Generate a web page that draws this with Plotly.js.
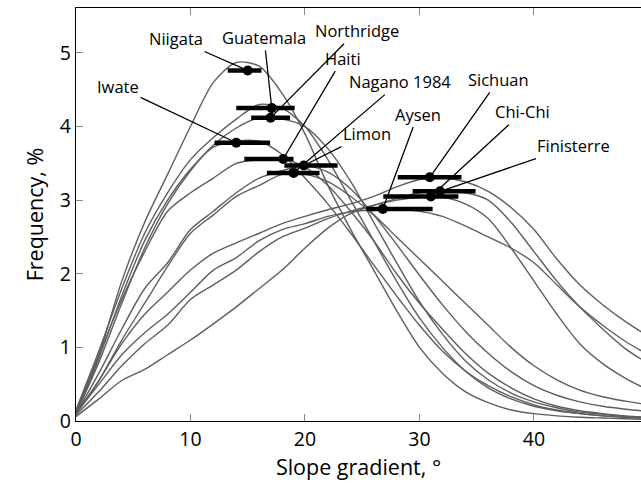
<!DOCTYPE html>
<html>
<head>
<meta charset="utf-8">
<script src="https://cdn.plot.ly/plotly-3.0.1.min.js"></script>
<style>html,body{margin:0;padding:0;background:#fff;}#chart{width:641px;height:485px;}</style>
</head>
<body>
<div id="chart"></div>
<script>
// Slope-gradient bins (degrees)
const slopeX = [0,2,4,6,8,10,12,14,16,18,20,22,24,26,28,30,32,34,36,38,40,42,44,46,48,50];

// Frequency (%) of each event's landslide slope distribution
const niigata    = [0.12,0.9,1.9,2.7,3.35,4.0,4.6,4.87,4.82,4.45,3.9,3.2,2.6,2.05,1.5,1.0,0.65,0.4,0.25,0.15,0.1,0.07,0.05,0.04,0.03,0.02];
const guatemala  = [0.15,0.95,1.8,2.55,3.1,3.55,3.85,4.1,4.3,4.25,4.0,3.55,3.0,2.45,1.9,1.4,1.0,0.68,0.45,0.3,0.2,0.14,0.1,0.07,0.05,0.04];
const northridge = [0.1,0.8,1.6,2.35,2.95,3.4,3.75,3.98,4.12,4.1,4.0,3.7,3.25,2.7,2.15,1.62,1.18,0.82,0.56,0.38,0.26,0.18,0.12,0.09,0.06,0.05];
const iwate      = [0.1,0.85,1.7,2.45,3.0,3.42,3.72,3.8,3.8,3.62,3.3,2.95,2.55,2.12,1.7,1.3,0.95,0.68,0.48,0.33,0.22,0.15,0.1,0.07,0.05,0.04];
const haiti      = [0.12,0.9,1.65,2.3,2.85,3.1,3.3,3.5,3.55,3.56,3.45,3.2,2.85,2.45,2.0,1.6,1.25,0.92,0.65,0.45,0.3,0.2,0.14,0.1,0.07,0.05];
const limon      = [0.1,0.65,1.25,1.8,2.15,2.6,2.85,3.1,3.3,3.4,3.47,3.38,3.15,2.8,2.4,1.98,1.58,1.22,0.92,0.67,0.48,0.35,0.26,0.2,0.16,0.13];
const nagano     = [0.1,0.55,1.1,1.6,2.1,2.55,2.8,3.05,3.2,3.35,3.35,3.25,3.05,2.8,2.5,2.2,1.9,1.6,1.3,1.0,0.75,0.56,0.42,0.33,0.27,0.22];
const aysen      = [0.1,0.5,0.9,1.2,1.45,1.75,2.05,2.22,2.45,2.6,2.68,2.78,2.84,2.87,2.88,2.85,2.78,2.65,2.5,2.35,2.15,1.85,1.55,1.3,1.08,0.9];
const sichuan    = [0.1,0.55,1.05,1.45,1.75,2.05,2.28,2.42,2.55,2.68,2.78,2.87,2.95,3.05,3.18,3.28,3.3,3.25,3.12,2.9,2.6,2.2,1.85,1.58,1.35,1.15];
const chichi     = [0.08,0.4,0.75,1.05,1.3,1.65,1.85,2.05,2.3,2.5,2.62,2.75,2.85,2.93,3.0,3.04,3.04,2.95,2.75,2.35,1.9,1.45,1.05,0.78,0.58,0.42];
const finisterre = [0.06,0.3,0.55,0.7,0.9,1.1,1.32,1.55,1.8,2.05,2.35,2.62,2.82,2.93,3.02,3.1,3.12,3.1,3.0,2.7,2.3,1.9,1.55,1.25,0.98,0.78];

// Event names, modal slope (dot) and its spread (bar)
const eventNames = ["Niigata","Guatemala","Northridge","Iwate","Haiti","Limon","Nagano 1984","Aysen","Sichuan","Chi-Chi","Finisterre"];
const peakX      = [15.0,17.1,17.0,14.0,18.1,19.9,19.0,26.8,30.9,31.0,31.8];
const peakY      = [4.76,4.25,4.12,3.78,3.56,3.47,3.37,2.88,3.31,3.05,3.12];
const spreadMinus= [1.75,3.1,1.7,1.9,3.4,1.7,2.33,1.45,2.8,4.16,2.4];
const spreadPlus = [1.2,2.0,1.7,2.95,0.9,2.95,2.27,4.35,2.77,2.4,3.1];

// Tick labels
const xTicks = [0,10,20,30,40];
const yTicks = [0,1,2,3,4,5];

// Label placement (layout only)
const labelPos = {
  x: [8.73,16.42,24.54,3.67,23.32,25.41,28.3,29.87,36.94,39.04,43.49],
  y: [5.19,5.21,5.30,4.54,4.93,3.90,4.61,4.17,4.64,4.20,3.74]
};

const curves = [niigata,guatemala,northridge,iwate,haiti,limon,nagano,aysen,sichuan,chichi,finisterre];
const FONT = "Open Sans, Noto Sans, sans-serif";

const traces = curves.map((c,i) => ({
  type: "scatter", mode: "lines", x: slopeX, y: c, name: eventNames[i],
  line: {color: "#5e5e5e", width: 1.4, shape: "spline", smoothing: 0.8},
  hoverinfo: "skip"
}));

traces.push({
  type: "scatter", mode: "markers", x: peakX, y: peakY, text: eventNames,
  marker: {color: "#000", size: 10},
  error_x: {type: "data", symmetric: false, array: spreadPlus, arrayminus: spreadMinus,
            color: "#000", thickness: 4.5, width: 0}
});

const annotations = eventNames.map((n,i) => ({
  x: peakX[i], y: peakY[i], xref: "x", yref: "y",
  ax: labelPos.x[i], ay: labelPos.y[i], axref: "x", ayref: "y",
  text: n, showarrow: true, arrowhead: 0, arrowwidth: 1.3, arrowcolor: "#000",
  standoff: 4, font: {family: FONT, size: 16.5, color: "#000"}
}));

const layout = {
  width: 641, height: 485,
  margin: {l: 76, r: 0, t: 8, b: 64, pad: 0},
  paper_bgcolor: "#fff", plot_bgcolor: "#fff",
  showlegend: false,
  font: {family: FONT, color: "#000"},
  xaxis: {
    range: [0, 49.35], tickvals: xTicks, ticktext: xTicks.map(String),
    ticks: "inside", ticklen: 7, tickcolor: "#888", tickwidth: 1,
    showline: true, linecolor: "#000", linewidth: 1.2, mirror: "ticks",
    showgrid: false, zeroline: false,
    tickfont: {family: FONT, size: 19.5, color: "#000"},
    title: {text: "Slope gradient, °", font: {family: FONT, size: 21.5, color: "#000"}, standoff: 4}
  },
  yaxis: {
    range: [0, 5.61], tickvals: yTicks, ticktext: yTicks.map(String),
    ticks: "inside", ticklen: 7, tickcolor: "#888", tickwidth: 1,
    showline: true, linecolor: "#000", linewidth: 1.2, mirror: false,
    showgrid: false, zeroline: false,
    tickfont: {family: FONT, size: 19.5, color: "#000"},
    title: {text: "Frequency, %", font: {family: FONT, size: 21.5, color: "#000"}, standoff: 10}
  },
  annotations: annotations
};

Plotly.newPlot("chart", traces, layout, {displayModeBar: false, staticPlot: true});
</script>
</body>
</html>
